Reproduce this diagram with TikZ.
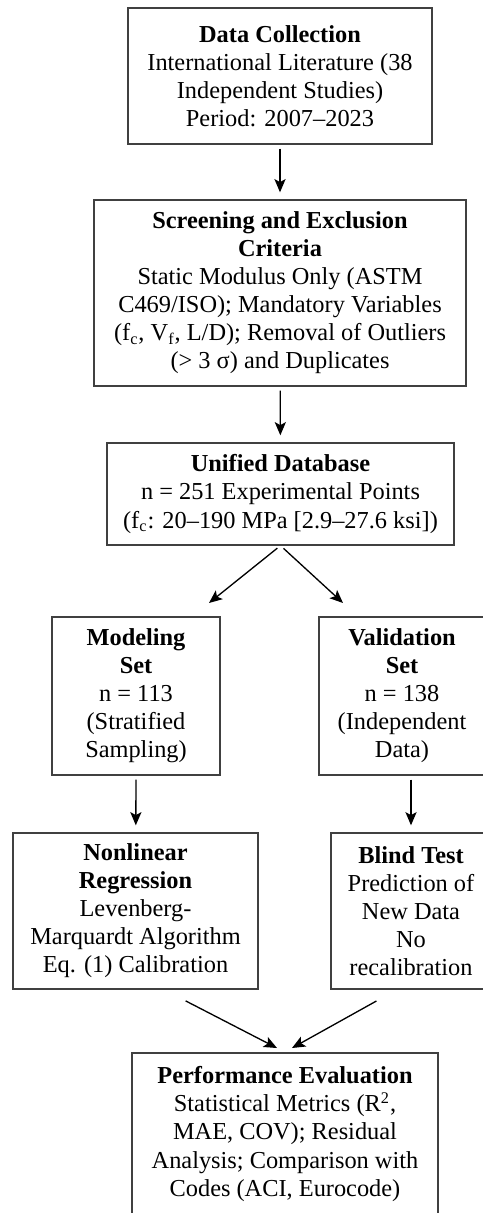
\documentclass[tikz,border=0pt]{standalone}
\usepackage{fontspec}
\setmainfont{Liberation Serif}
\usetikzlibrary{arrows.meta}

\begin{document}
\begin{tikzpicture}
  [x=0.4926pt,y=-0.4926pt,
   stage/.style 2 args={draw=black!75,line width=0.6pt,align=center,inner sep=0pt,
     minimum width=#1*0.4926pt,minimum height=#2*0.4926pt,
     font=\fontsize{12}{13.8}\selectfont},
   flow/.style={-{Stealth[length=6.5pt,width=5.5pt,inset=1.5pt]},line width=0.65pt,
     shorten <=2pt,shorten >=3.5pt}]
  \useasboundingbox (0,0) rectangle (482,1213);

  \node[stage={304}{136}] (dc) at (280,76)
    {\textbf{Data Collection}\\International Literature (38\\Independent Studies)\\Period: 2007--2023};
  \node[stage={372}{186}] (sc) at (280,293)
    {\textbf{Screening and Exclusion}\\\textbf{Criteria}\\Static Modulus Only (ASTM\\C469/ISO); Mandatory Variables\\(f\textsubscript{c}, V\textsubscript{f}, L/D); Removal of Outliers\\(> 3 σ) and Duplicates};
  \node[stage={347}{102}] (db) at (280.5,494)
    {\textbf{Unified Database}\\n = 251 Experimental Points\\(f\textsubscript{c}: 20--190 MPa [2.9--27.6 ksi])};
  \node[stage={168}{158}] (ms) at (136,696)
    {\textbf{Modeling}\\\textbf{Set}\\n = 113\\(Stratified\\Sampling)};
  \node[stage={166}{158}] (vs) at (402,696)
    {\textbf{Validation}\\\textbf{Set}\\n = 138\\(Independent\\Data)};
  \node[stage={245}{156}] (nr) at (135.5,911)
    {\textbf{Nonlinear}\\\textbf{Regression}\\Levenberg-\\Marquardt Algorithm\\Eq. (1) Calibration};
  \node[stage={160}{156}] (bt) at (411,911)
    {\textbf{Blind Test}\\Prediction of\\New Data\\No\\recalibration};
  \node[stage={306}{162}] (pe) at (285,1134)
    {\textbf{Performance Evaluation}\\Statistical Metrics (R\textsuperscript{2},\\MAE, COV); Residual\\Analysis; Comparison with\\Codes (ACI, Eurocode)};

  \coordinate (msin) at (209,603);
  \coordinate (vsin) at (343,603);
  \coordinate (nrout) at (182,999);
  \coordinate (btout) at (380,999);
  \coordinate (pel) at (277,1048);
  \coordinate (per) at (292,1048);

  \foreach \from/\to in {dc/sc, sc/db, ms.south/nr, vs.south -| bt/bt}
    \draw[flow] (\from) -- (\to);
  \foreach \from/\to in {db.south/msin, db.south/vsin, nrout/pel, btout/per}
    \draw[flow,shorten >=0pt] (\from) -- (\to);

\end{tikzpicture}
\end{document}
